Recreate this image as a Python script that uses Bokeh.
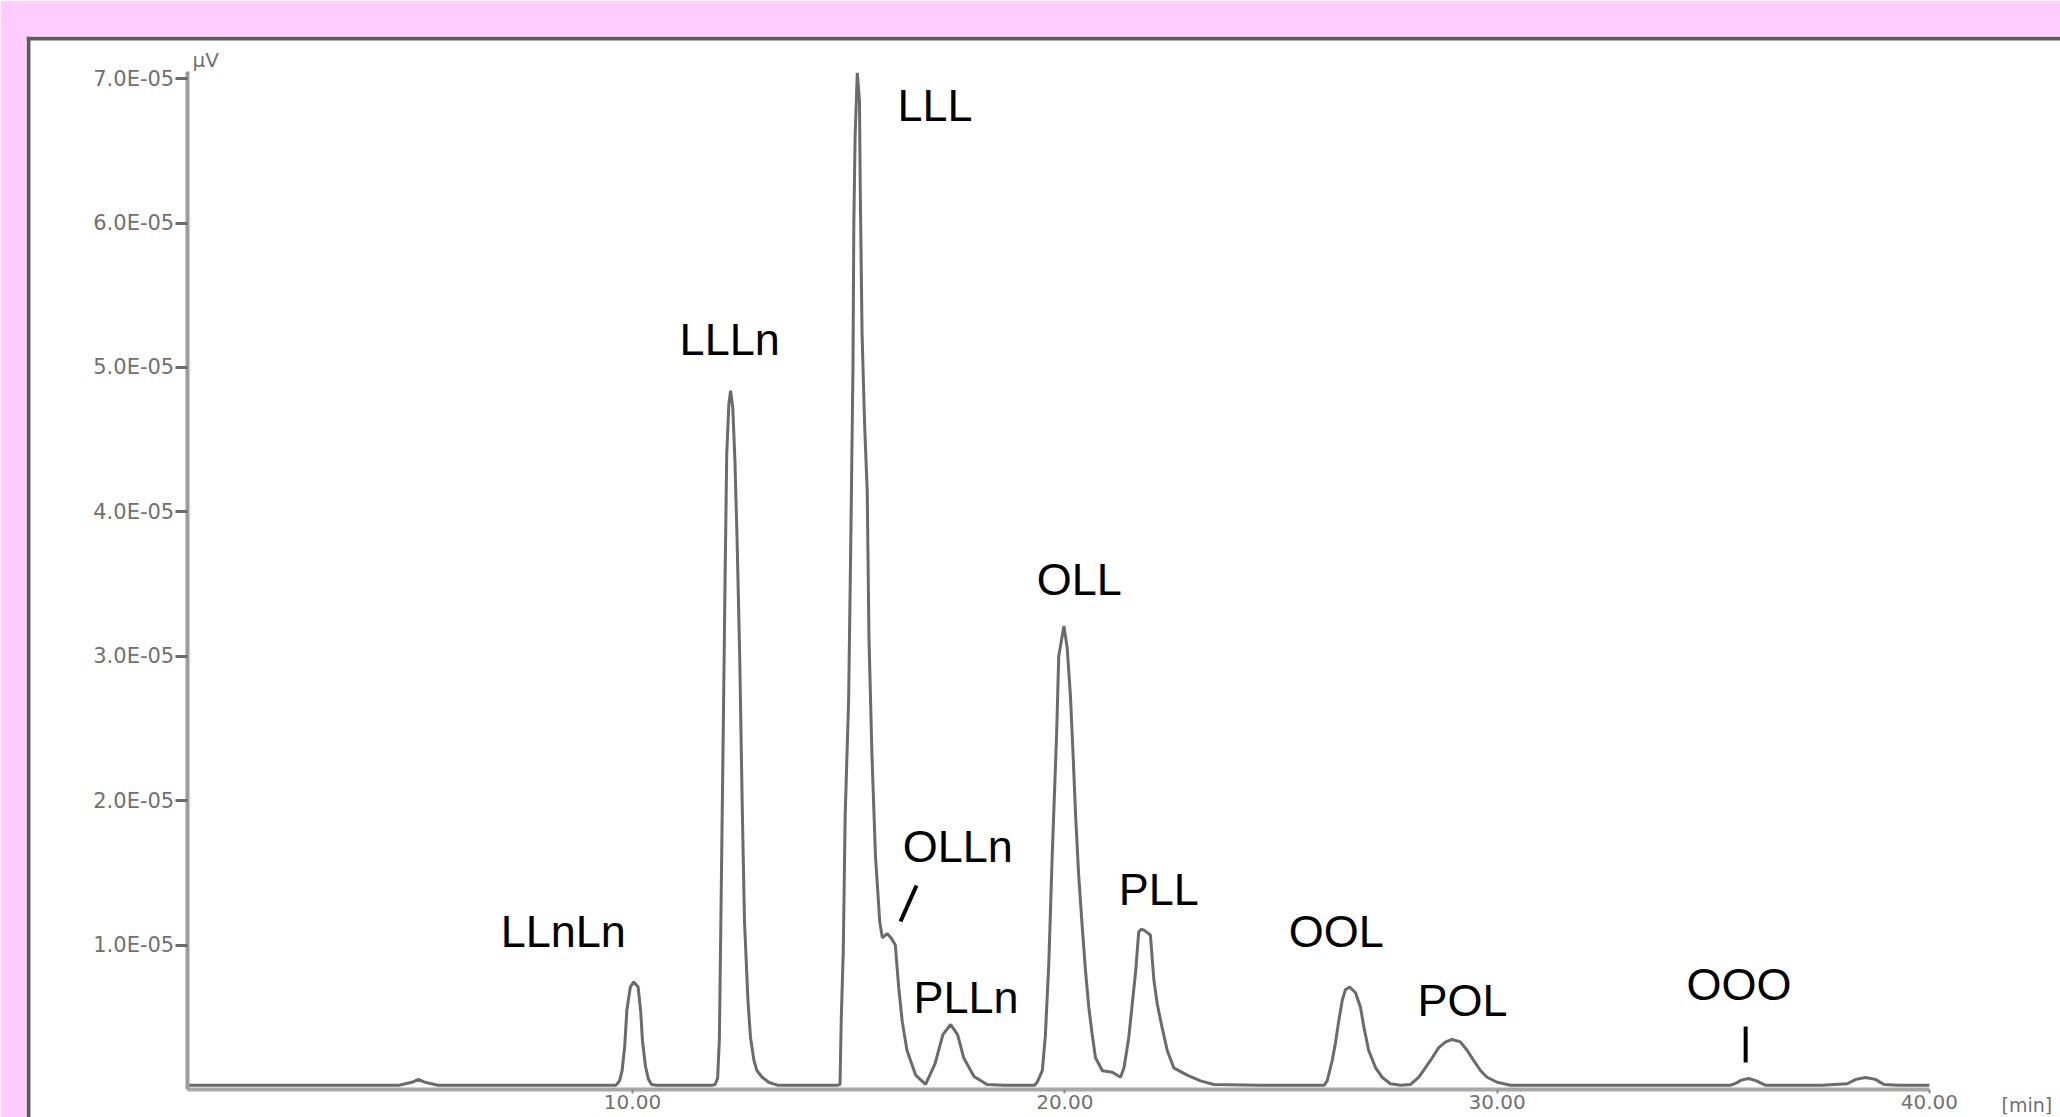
import numpy as np
from bokeh.plotting import figure
from bokeh.models import (ColumnDataSource, LinearAxis, FixedTicker, CustomJSTickFormatter,
                          PrintfTickFormatter, Range1d, Span, Label)
from bokeh.core.properties import value
from bokeh.embed import file_html
from bokeh.resources import INLINE

# ---- data (time in min, signal in units of 1e-5 uV) ----
time_min = [
    -0.27, 2.0, 4.6, 4.9, 5.05, 5.2, 5.5, 8.0, 9.55,
    # LLnLn
    9.62, 9.70, 9.76, 9.82, 9.87, 9.95, 10.03, 10.13, 10.19, 10.23, 10.30, 10.37, 10.44, 10.55,
    11.0, 11.85,
    # LLLn
    11.91, 11.97, 12.01, 12.05, 12.10, 12.14, 12.18, 12.23, 12.27, 12.32, 12.37, 12.42, 12.48,
    12.54, 12.59, 12.67, 12.73, 12.81, 12.88, 13.0, 13.15, 13.35,
    14.0, 14.75,
    # LLL + OLLn shoulder + PLLn
    14.80, 14.83, 14.875, 14.92, 15.0, 15.05, 15.10, 15.12, 15.15, 15.20, 15.25, 15.27, 15.31,
    15.37, 15.43, 15.47, 15.54, 15.62, 15.72, 15.78, 15.89, 15.98, 16.08, 16.16, 16.24, 16.35,
    16.55, 16.78, 17.0, 17.18, 17.36, 17.52, 17.66, 17.90, 18.2,
    18.6, 19.3,
    # OLL + PLL
    19.36, 19.48, 19.55, 19.63, 19.71, 19.81, 19.86, 19.98, 20.055, 20.13, 20.19, 20.25, 20.32,
    20.40, 20.48, 20.555, 20.63, 20.71, 20.87, 21.10, 21.29,
    21.37, 21.48, 21.56, 21.64, 21.71, 21.77, 21.85, 21.98, 22.06, 22.14, 22.25, 22.37, 22.52,
    22.83, 23.14, 23.45,
    24.5, 26.0,
    # OOL + POL
    26.07, 26.185, 26.26, 26.34, 26.42, 26.49, 26.59, 26.725, 26.84, 26.92, 27.03, 27.19, 27.34,
    27.53, 27.77, 28.0,
    28.19, 28.34, 28.50, 28.65, 28.81, 28.96, 29.15, 29.31, 29.46, 29.62, 29.77, 30.0, 30.31,
    32.0, 35.4,
    # OOO and late bump
    35.5, 35.65, 35.82, 36.0, 36.2,
    37.5, 38.1, 38.3, 38.52, 38.75, 38.95, 39.3, 40.0,
]
signal_e5 = [
    0.03, 0.03, 0.03, 0.05, 0.07, 0.05, 0.03, 0.03, 0.03,
    0.03, 0.06, 0.13, 0.30, 0.55, 0.71, 0.745, 0.71, 0.54, 0.34, 0.16, 0.07, 0.035, 0.03,
    0.03, 0.03,
    0.035, 0.08, 0.35, 1.30, 2.50, 3.50, 4.40, 4.75, 4.84, 4.72, 4.35, 3.80, 3.00,
    1.94, 1.17, 0.62, 0.36, 0.20, 0.13, 0.085, 0.05, 0.03,
    0.03, 0.03,
    0.035, 0.50, 0.95, 1.90, 2.70, 3.80, 5.00, 6.00, 6.60, 7.04, 6.85, 6.20, 5.24,
    4.60, 4.14, 3.13, 2.31, 1.62, 1.16, 1.05, 1.08, 1.05, 1.00, 0.70, 0.47, 0.27,
    0.10, 0.035, 0.18, 0.38, 0.45, 0.38, 0.22, 0.09, 0.035,
    0.03, 0.03,
    0.05, 0.13, 0.37, 0.87, 1.63, 2.45, 3.00, 3.21, 3.06, 2.73, 2.33, 1.90, 1.49,
    1.14, 0.82, 0.57, 0.39, 0.22, 0.13, 0.12, 0.085,
    0.15, 0.36, 0.59, 0.82, 1.09, 1.11, 1.10, 1.07, 0.76, 0.59, 0.43, 0.27, 0.15,
    0.10, 0.06, 0.035,
    0.03, 0.03,
    0.06, 0.20, 0.32, 0.48, 0.62, 0.69, 0.71, 0.67, 0.57, 0.43, 0.27, 0.15, 0.085,
    0.04, 0.03, 0.035,
    0.085, 0.15, 0.22, 0.29, 0.33, 0.346, 0.33, 0.27, 0.20, 0.13, 0.085, 0.05, 0.03,
    0.03, 0.03,
    0.04, 0.065, 0.076, 0.06, 0.03,
    0.03, 0.04, 0.07, 0.083, 0.07, 0.035, 0.03, 0.03,
]

peak_names = ["LLnLn", "LLLn", "LLL", "OLLn", "PLLn", "OLL", "PLL", "OOL", "POL", "OOO"]
peak_label_t = [6.95, 11.09, 16.13, 16.25, 16.50, 19.35, 21.25, 25.18, 28.16, 34.38]
peak_label_v = [1.096, 5.195, 6.816, 1.684, 0.639, 3.533, 1.387, 1.096, 0.618, 0.729]

leader_t0 = [16.57, 35.75]
leader_v0 = [1.413, 0.436]
leader_t1 = [16.20, 35.75]
leader_v1 = [1.163, 0.187]

x_ticks = [10, 20, 30, 40]
y_ticks_e5 = [1, 2, 3, 4, 5, 6, 7]

SCALE = 1e-5

# ---- figure ----
p = figure(width=2060, height=1117, title=None,
           x_range=Range1d(-4.018, 43.033), y_range=Range1d(-0.1939 * SCALE, 7.292 * SCALE),
           x_axis_location=None, y_axis_location=None,
           toolbar_location=None, output_backend="svg",
           min_border_left=26, min_border_top=36, min_border_right=0, min_border_bottom=0,
           background_fill_color="white", border_fill_color="#FFCCFF",
           outline_line_color=None)
p.grid.grid_line_color = None
p.grid.visible = False

src = ColumnDataSource(dict(t=time_min, v=np.array(signal_e5) * SCALE))
p.line("t", "v", source=src, line_color="#6b6b6b", line_width=3)

lab = ColumnDataSource(dict(t=peak_label_t, v=np.array(peak_label_v) * SCALE, name=peak_names))
p.text("t", "v", text="name", source=lab, text_font=value("Liberation Sans"),
       text_font_size="45px", text_align="left", text_baseline="alphabetic", text_color="black")

lead = ColumnDataSource(dict(x0=leader_t0, y0=np.array(leader_v0) * SCALE,
                             x1=leader_t1, y1=np.array(leader_v1) * SCALE))
p.segment("x0", "y0", "x1", "y1", source=lead, line_color="black", line_width=4)

# frame border (top and left only)
p.add_layout(Span(location=-3.972, dimension="height", line_color="#5c5c5c", line_width=4))
p.add_layout(Span(location=7.278 * SCALE, dimension="width", line_color="#5c5c5c", line_width=4))

fmt_code = """
var s = tick.toExponential(1).toUpperCase();
return s.replace(/E([+-])(\\d)$/, function(m, sg, d) { return "E" + sg + "0" + d; });
"""

yax = LinearAxis(fixed_location=-0.3, bounds=(0, 7.05 * SCALE),
                 ticker=FixedTicker(ticks=[v * SCALE for v in y_ticks_e5]),
                 formatter=CustomJSTickFormatter(code=fmt_code))
yax.axis_line_color = "#9c9c9c"
yax.axis_line_width = 4
yax.major_tick_out = 12
yax.major_tick_in = 0
yax.major_tick_line_color = "#6a6a6a"
yax.major_tick_line_width = 3
yax.minor_tick_line_color = None
yax.major_label_text_font = "DejaVu Sans"
yax.major_label_text_font_size = "21px"
yax.major_label_text_color = "#707070"
yax.major_label_standoff = 1
p.add_layout(yax, "left")

xax = LinearAxis(fixed_location=0, bounds=(-0.3, 40),
                 ticker=FixedTicker(ticks=x_ticks),
                 formatter=PrintfTickFormatter(format="%.2f"))
xax.axis_line_color = "#a8a8a8"
xax.axis_line_width = 4
xax.major_tick_out = 4
xax.major_tick_in = 0
xax.major_tick_line_color = "#8a8a8a"
xax.major_tick_line_width = 2
xax.minor_tick_line_color = None
xax.major_label_text_font = "DejaVu Sans"
xax.major_label_text_font_size = "20px"
xax.major_label_text_color = "#707070"
xax.major_label_standoff = 2
p.add_layout(xax, "below")

p.add_layout(Label(x=-0.18, y=7.13 * SCALE, text="µV", text_font="DejaVu Sans",
                   text_font_size="20px", text_color="#707070", text_baseline="alphabetic"))
p.add_layout(Label(x=41.67, y=0, y_offset=-5, text="[min]", text_font="DejaVu Sans",
                   text_font_size="19px", text_color="#707070", text_baseline="top"))

open("out.html", "w").write(file_html(p, INLINE))
